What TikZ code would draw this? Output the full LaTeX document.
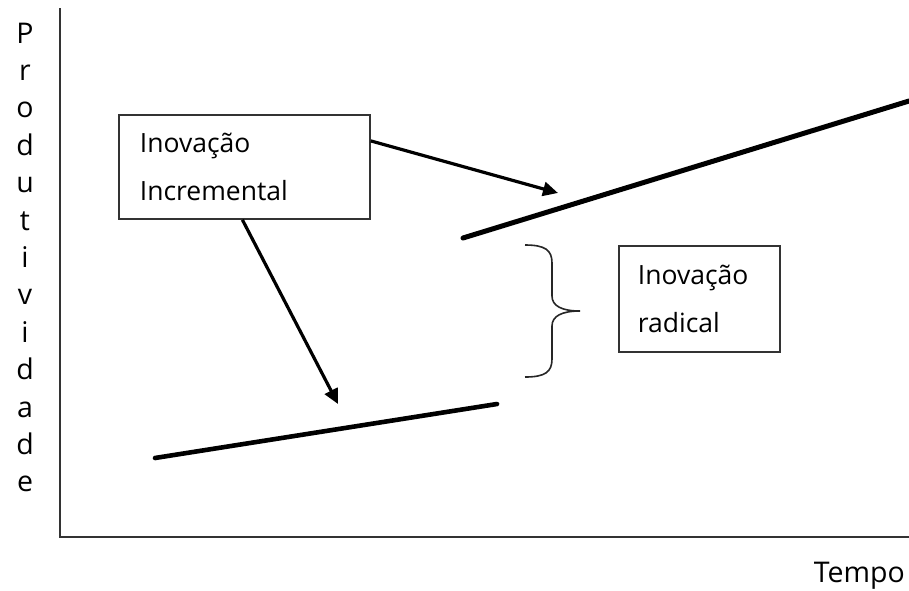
\documentclass[tikz,border=0pt]{standalone}
\usepackage{fontspec}
\setmainfont{Open Sans}
\usetikzlibrary{arrows.meta}
\begin{document}
\begin{tikzpicture}[x=1pt,y=-1pt,
  axis/.style={line width=2.2pt, draw=black!80},
  trend/.style={line width=4.6pt, line cap=round},
  labelbox/.style={draw=black!80, line width=1.8pt, align=left, anchor=north west,
    inner xsep=21pt, inner ysep=0pt, font=\fontsize{26.5}{48}\selectfont},
  pointer/.style={line width=3.2pt, -{Triangle[length=15pt,width=14pt]}},
  axislabel/.style={font=\fontsize{28.5}{32}\selectfont, inner sep=0pt},
  bracepath/.style={line width=1.6pt, draw=black!85}
]
\useasboundingbox (0,0) rectangle (909,590);

% axes
\coordinate (origin) at (60,537);
\coordinate (ytop) at (60,8);
\coordinate (xend) at (909,537);
\draw[axis] (ytop) -- (origin) -- (xend);

% axis labels
\foreach [count=\i] \c in {P,r,o,d,u,t,i,v,i,d,a,d,e}
  \node[axislabel, anchor=base] (ylab\i) at (25,{43+37.4*(\i-1)}) {\c};
\node[axislabel, anchor=base east] (xlab) at (905,582) {Tempo};

% productivity curves
\coordinate (lowA) at (155,458);
\coordinate (lowB) at (497,404);
\coordinate (highA) at (463,238);
\coordinate (highB) at (909,101);
\draw[trend] (lowA) -- (lowB);
\draw[trend, line width=5pt] (highA) -- (highB);

% label boxes
\node[labelbox, minimum width=251pt, minimum height=104pt, text width=209pt]
  (incr) at (118,114) {Inovação\\Incremental};
\node[labelbox, minimum width=161pt, minimum height=106pt, text width=123pt, inner xsep=19pt]
  (rad) at (618,245) {Inovação\\radical};

% pointers from the incremental box
\coordinate (tipHigh) at (558,193);
\coordinate (tipLow) at (338,404);
\draw[pointer] ([yshift=26pt]incr.east) -- (tipHigh);
\draw[pointer] ([xshift=-2pt]incr.south) -- (tipLow);

% brace marking the jump
\coordinate (braceTop) at (525,245);
\coordinate (braceTip) at (580,311);
\coordinate (braceBot) at (525,377);
\draw[bracepath] (braceTop) .. controls (545,245) and (552,250) .. (552,263)
  -- (552,296) .. controls (552,306) and (562,311) .. (braceTip)
  .. controls (562,311) and (552,316) .. (552,326)
  -- (552,359) .. controls (552,372) and (545,377) .. (braceBot);
\end{tikzpicture}
\end{document}
